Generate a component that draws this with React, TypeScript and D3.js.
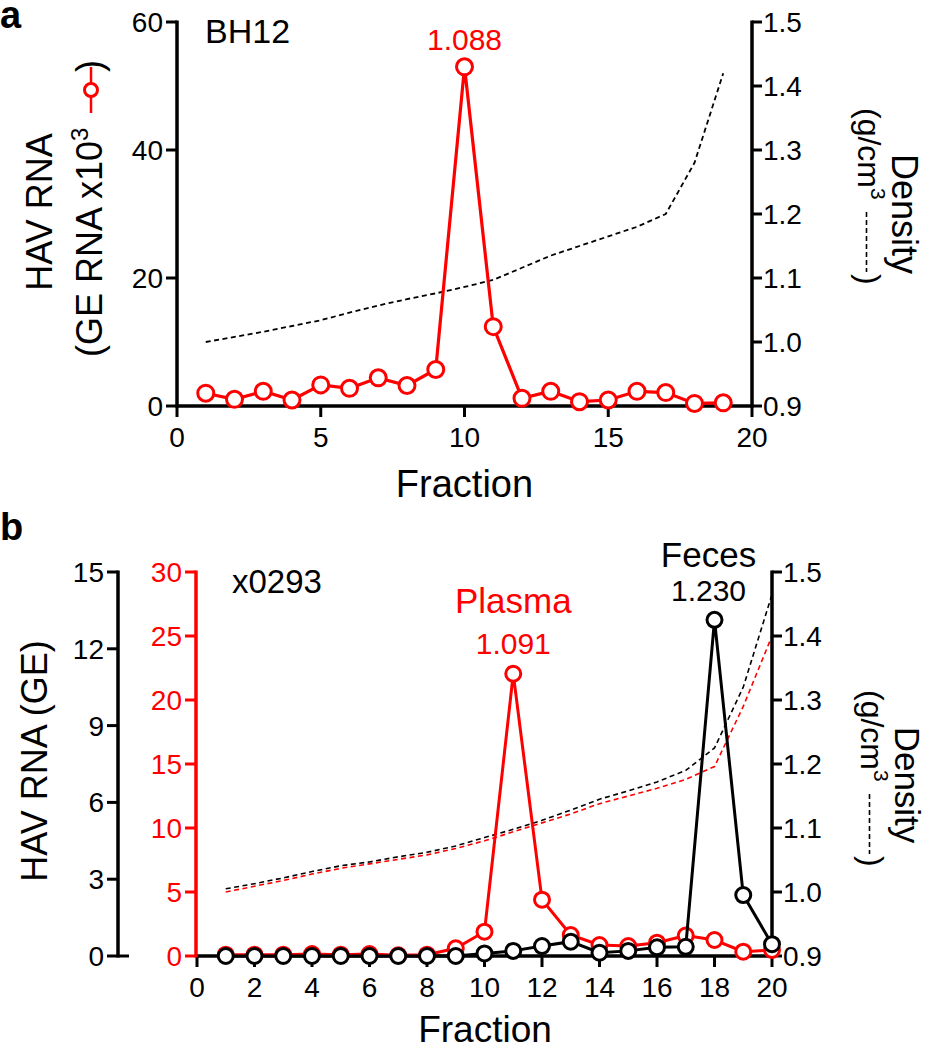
import React from 'react';
import * as d3 from 'd3';

// ---------- Panel a data ----------
const fractionsA = [1, 2, 3, 4, 5, 6, 7, 8, 9, 10, 11, 12, 13, 14, 15, 16, 17, 18, 19];
const rnaA = [2.0, 1.05, 2.3, 0.94, 3.3, 2.76, 4.4, 3.2, 5.7, 53.0, 12.4, 1.2, 2.3, 0.67, 0.94, 2.3, 2.1, 0.4, 0.5];
const densityA = [1.0, 1.008, 1.016, 1.025, 1.034, 1.046, 1.057, 1.067, 1.076, 1.086, 1.097, 1.116, 1.135, 1.15, 1.165, 1.18, 1.2, 1.28, 1.42];
const xTicksA = [0, 5, 10, 15, 20];
const yTicksA = [0, 20, 40, 60];
const densTicks = [0.9, 1.0, 1.1, 1.2, 1.3, 1.4, 1.5];

// ---------- Panel b data ----------
const fractionsB = [1, 2, 3, 4, 5, 6, 7, 8, 9, 10, 11, 12, 13, 14, 15, 16, 17, 18, 19, 20];
const plasmaB = [0.1, 0.1, 0.1, 0.15, 0.1, 0.15, 0.05, 0.1, 0.6, 1.9, 22.05, 4.4, 1.64, 0.86, 0.78, 1.04, 1.6, 1.25, 0.34, 0.47];
const fecesB = [0, 0, 0, 0, 0, 0, 0, 0, 0, 0.1, 0.2, 0.39, 0.56, 0.13, 0.2, 0.34, 0.36, 13.13, 2.38, 0.46];
const densityFecesB = [1.005, 1.013, 1.022, 1.032, 1.041, 1.047, 1.055, 1.062, 1.072, 1.085, 1.098, 1.112, 1.128, 1.145, 1.158, 1.172, 1.19, 1.225, 1.32, 1.465];
const densityPlasmaB = [1.0, 1.009, 1.018, 1.028, 1.037, 1.044, 1.051, 1.058, 1.068, 1.08, 1.094, 1.108, 1.122, 1.138, 1.15, 1.162, 1.176, 1.196, 1.29, 1.4];
const xTicksB = [0, 2, 4, 6, 8, 10, 12, 14, 16, 18, 20];
const yTicksBlack = [0, 3, 6, 9, 12, 15];
const yTicksRed = [0, 5, 10, 15, 20, 25, 30];

const RED = '#ff0000';
const FONT = '"Liberation Sans", Arial, Helvetica, sans-serif';
const TICK_FS = 28;

const fmtD = (v: number) => v.toFixed(1);

type Pt = [number, number];

function LineSeries({ xs, ys, x, y, color, dashed, width }: any) {
  const pts: Pt[] = xs.map((f: number, i: number) => [x(f), y(ys[i])]);
  const gen = d3.line<Pt>().x(d => d[0]).y(d => d[1]);
  return (
    <path d={gen(pts) || ''} fill="none" stroke={color} strokeWidth={width}
      strokeDasharray={dashed ? '5,3.5' : undefined} strokeLinejoin="miter" />
  );
}

function Markers({ xs, ys, x, y, color, r }: any) {
  return (
    <g>
      {xs.map((f: number, i: number) => (
        <circle key={i} cx={x(f)} cy={y(ys[i])} r={r} fill="#fff" stroke={color} strokeWidth={3} />
      ))}
    </g>
  );
}

function LeftAxis({ scale, ticks, ax, color }: any) {
  const [r0, r1] = scale.range();
  return (
    <g>
      <line x1={ax} x2={ax} y1={r0 + 1.5} y2={r1 - 1.5} stroke={color} strokeWidth={3.5} />
      {ticks.map((t: number) => (
        <g key={t}>
          <line x1={ax - 11} x2={ax} y1={scale(t)} y2={scale(t)} stroke={color} strokeWidth={3} />
          <text x={ax - 14} y={scale(t)} dy="0.36em" textAnchor="end" fontSize={TICK_FS} fill={color} fontFamily={FONT}>
            {t}
          </text>
        </g>
      ))}
    </g>
  );
}

function RightAxis({ scale, ticks, ax, color }: any) {
  const [r0, r1] = scale.range();
  return (
    <g>
      <line x1={ax} x2={ax} y1={r0 + 1.5} y2={r1 - 1.5} stroke={color} strokeWidth={3.5} />
      {ticks.map((t: number) => (
        <g key={t}>
          <line x1={ax} x2={ax + 10} y1={scale(t)} y2={scale(t)} stroke={color} strokeWidth={3} />
          <text x={ax + 11} y={scale(t)} dy="0.36em" textAnchor="start" fontSize={TICK_FS} fill={color} fontFamily={FONT}>
            {fmtD(t)}
          </text>
        </g>
      ))}
    </g>
  );
}

function BottomAxis({ scale, ticks, ay, x0, x1 }: any) {
  return (
    <g>
      <line x1={x0} x2={x1} y1={ay} y2={ay} stroke="#000" strokeWidth={3.5} />
      {ticks.map((t: number) => (
        <g key={t}>
          <line x1={scale(t)} x2={scale(t)} y1={ay} y2={ay + 11} stroke="#000" strokeWidth={3} />
          <text x={scale(t)} y={ay + 41} textAnchor="middle" fontSize={TICK_FS} fill="#000" fontFamily={FONT}>{t}</text>
        </g>
      ))}
    </g>
  );
}

function DensityTitle({ bx, cy, start, fs }: { bx: number; cy: number; start: number; fs: number }) {
  // rotated +90 : reading top -> bottom
  return (
    <g fontFamily={FONT} fill="#000">
      <g transform={`translate(${bx + 34},0) rotate(90)`}>
        <text x={cy} y={0} textAnchor="middle" fontSize={fs}>Density</text>
      </g>
      <g transform={`translate(${bx},0) rotate(90)`}>
        <text x={start} y={0} textAnchor="start" fontSize={32}>
          (g/cm<tspan dy={-13} fontSize={21}>3</tspan>
        </text>
        <line x1={start + 104} x2={start + 164} y1={-8.5} y2={-8.5} stroke="#000" strokeWidth={1.6} strokeDasharray="5,3" />
        <text x={start + 166} y={0} textAnchor="start" fontSize={32}>)</text>
      </g>
    </g>
  );
}

export default function App() {
  // Panel a scales
  const xA = d3.scaleLinear().domain([0, 20]).range([177, 752]);
  const yA = d3.scaleLinear().domain([0, 60]).range([406, 22]);
  const yDA = d3.scaleLinear().domain([0.9, 1.5]).range([406, 22]);

  // Panel b scales
  const xB = d3.scaleLinear().domain([0, 20]).range([197, 772]);
  const yBk = d3.scaleLinear().domain([0, 15]).range([956, 572]);
  const yBr = d3.scaleLinear().domain([0, 30]).range([956, 572]);
  const yDB = d3.scaleLinear().domain([0.9, 1.5]).range([956, 572]);

  const peakA = rnaA.indexOf(d3.max(rnaA) as number);
  const peakPl = plasmaB.indexOf(d3.max(plasmaB) as number);
  const peakFe = fecesB.indexOf(d3.max(fecesB) as number);

  return (
    <svg width={929} height={1050} style={{ position: 'absolute', left: 0, top: 0, background: '#fff' }}
      fontFamily={FONT}>
      <rect width={929} height={1050} fill="#fff" />

      {/* ===== Panel a ===== */}
      <text x={0} y={28} fontSize={38} fontWeight="bold" fill="#000">a</text>

      <LineSeries xs={fractionsA} ys={densityA} x={xA} y={yDA} color="#000" dashed width={1.8} />

      <BottomAxis scale={xA} ticks={xTicksA} ay={406} x0={xA(0) - 1.5} x1={xA(20) + 1.5} />
      <LeftAxis scale={yA} ticks={yTicksA} ax={177} color="#000" />
      <RightAxis scale={yDA} ticks={densTicks} ax={752} color="#000" />

      <LineSeries xs={fractionsA} ys={rnaA} x={xA} y={yA} color={RED} width={3.2} />
      <Markers xs={fractionsA} ys={rnaA} x={xA} y={yA} color={RED} r={8} />

      <text x={205} y={43} fontSize={34} fill="#000">BH12</text>
      <text x={xA(fractionsA[peakA])} y={50} textAnchor="middle" fontSize={30} fill={RED}>1.088</text>

      <text x={xA(10)} y={497} textAnchor="middle" fontSize={38} fill="#000">Fraction</text>

      {/* left title panel a */}
      <g transform="translate(52,0) rotate(-90)">
        <text x={-212} y={0} textAnchor="middle" fontSize={36} fill="#000">HAV RNA</text>
      </g>
      <g transform="translate(102,0) rotate(-90)">
        <text x={-357} y={0} textAnchor="start" fontSize={36} fill="#000">
          (GE RNA x10<tspan dy={-14} fontSize={24}>3</tspan>
        </text>
        <line x1={-113} x2={-67} y1={-11} y2={-11} stroke={RED} strokeWidth={2.5} />
        <circle cx={-90} cy={-11} r={6.5} fill="#fff" stroke={RED} strokeWidth={3} />
        <text x={-72} y={0} textAnchor="start" fontSize={36} fill="#000">)</text>
      </g>

      <DensityTitle bx={858} cy={214} start={108} fs={36} />

      {/* ===== Panel b ===== */}
      <text x={0} y={540} fontSize={38} fontWeight="bold" fill="#000">b</text>

      <LineSeries xs={fractionsB} ys={densityPlasmaB} x={xB} y={yDB} color={RED} dashed width={1.6} />
      <LineSeries xs={fractionsB} ys={densityFecesB} x={xB} y={yDB} color="#000" dashed width={1.6} />

      <BottomAxis scale={xB} ticks={xTicksB} ay={956} x0={xB(0) - 1.5} x1={xB(20) + 1.5} />
      <LeftAxis scale={yBk} ticks={yTicksBlack} ax={118} color="#000" />
      <line x1={118} x2={129} y1={956} y2={956} stroke="#000" strokeWidth={3} />
      <LeftAxis scale={yBr} ticks={yTicksRed} ax={196} color={RED} />
      <RightAxis scale={yDB} ticks={densTicks} ax={772} color="#000" />

      <LineSeries xs={fractionsB} ys={plasmaB} x={xB} y={yBr} color={RED} width={3} />
      <Markers xs={fractionsB} ys={plasmaB} x={xB} y={yBr} color={RED} r={7.5} />
      <LineSeries xs={fractionsB} ys={fecesB} x={xB} y={yBk} color="#000" width={3} />
      <Markers xs={fractionsB} ys={fecesB} x={xB} y={yBk} color="#000" r={7.5} />

      <text x={232} y={593} fontSize={33} fill="#000">x0293</text>
      <text x={xB(fractionsB[peakPl])} y={613} textAnchor="middle" fontSize={35} fill={RED}>Plasma</text>
      <text x={xB(fractionsB[peakPl])} y={654} textAnchor="middle" fontSize={30} fill={RED}>1.091</text>
      <text x={xB(fractionsB[peakFe]) - 6} y={567} textAnchor="middle" fontSize={35} fill="#000">Feces</text>
      <text x={xB(fractionsB[peakFe]) - 6} y={601} textAnchor="middle" fontSize={30} fill="#000">1.230</text>

      <text x={485} y={1042} textAnchor="middle" fontSize={37} fill="#000">Fraction</text>

      <g transform="translate(47,0) rotate(-90)">
        <text x={-761} y={0} textAnchor="middle" fontSize={36} fill="#000">HAV RNA (GE)</text>
      </g>

      <DensityTitle bx={861} cy={785} start={690} fs={35} />
    </svg>
  );
}
